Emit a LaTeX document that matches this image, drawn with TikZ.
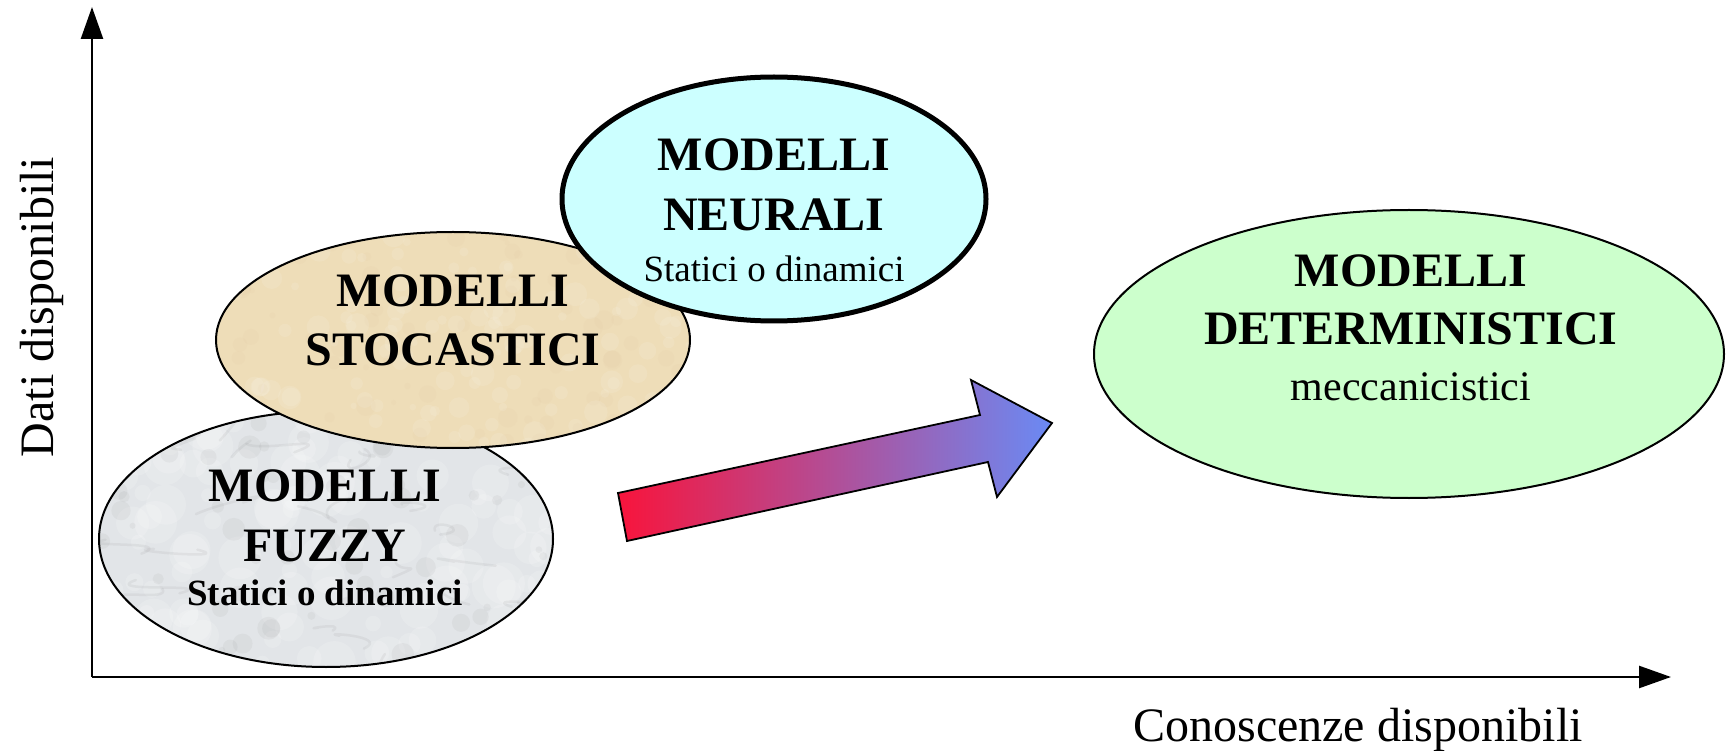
\documentclass[tikz,border=0pt]{standalone}
\usepackage{fontspec}
\setmainfont{Liberation Serif}
\usetikzlibrary{arrows.meta,shapes.geometric}

\definecolor{neurfill}{RGB}{204,255,255}
\definecolor{detfill}{RGB}{204,255,204}
\definecolor{stofill}{RGB}{238,221,184}
\definecolor{fuzfill}{RGB}{226,229,232}
\definecolor{arrred}{RGB}{248,20,60}
\definecolor{arrmid}{RGB}{200,96,176}
\definecolor{arrblue}{RGB}{106,138,244}

\begin{document}
\begin{tikzpicture}[x=1pt,y=-1pt,
  axis/.style={line width=2.5pt,-{Triangle[length=32pt,width=22pt]}},
  blob/.style={ellipse,inner sep=0pt},
  title/.style={font=\fontsize{48}{58}\selectfont\bfseries,inner sep=0pt},
  subreg/.style={font=\fontsize{37}{44}\selectfont,inner sep=0pt},
  subbold/.style={font=\fontsize{37}{44}\selectfont\bfseries,inner sep=0pt},
  axlabel/.style={font=\fontsize{48}{58}\selectfont,inner sep=0pt}]

\useasboundingbox (0,0) rectangle (1733,751);

% axes
\coordinate (O) at (92,677);
\coordinate (ytip) at (92,7);
\coordinate (xtip) at (1671,677);
\draw[axis] (O) -- (ytip);
\draw[axis] (O) -- (xtip);
\node[axlabel,rotate=90] (ylab) at (42,307) {Dati disponibili};
\node[axlabel,anchor=base] (xlab) at (1358,741) {Conoscenze disponibili};

\pgfmathsetseed{42}

% fuzzy models: marble-like grey
\node[blob,fill=fuzfill,minimum width=454pt,minimum height=256pt] (fuzzy) at (326,539) {};
\begin{scope}
  \clip (fuzzy.center) ellipse [x radius=227pt,y radius=128pt];
  \foreach \i in {1,...,120}{
    \pgfmathsetmacro{\px}{99+454*rnd}
    \pgfmathsetmacro{\py}{411+256*rnd}
    \pgfmathsetmacro{\pr}{6+16*rnd}
    \fill[white,opacity=0.16] (\px,\py) circle [radius=\pr pt];
  }
  \foreach \i in {1,...,70}{
    \pgfmathsetmacro{\px}{99+454*rnd}
    \pgfmathsetmacro{\py}{411+256*rnd}
    \pgfmathsetmacro{\pr}{3+9*rnd}
    \fill[gray,opacity=0.08] (\px,\py) circle [radius=\pr pt];
  }
  \foreach \i in {1,...,30}{
    \pgfmathsetmacro{\px}{99+454*rnd}
    \pgfmathsetmacro{\py}{411+256*rnd}
    \pgfmathsetmacro{\dxa}{50*rand}
    \pgfmathsetmacro{\dya}{20*rand}
    \pgfmathsetmacro{\dxb}{50*rand}
    \pgfmathsetmacro{\dyb}{20*rand}
    \draw[gray,opacity=0.10,line width=2.5pt,line cap=round,line join=round]
      (\px,\py) .. controls +(\dxa,\dya) and +(\dxb,\dyb) .. ++(\dxb,\dya);
  }
\end{scope}
\draw[line width=2pt] (fuzzy.center) ellipse [x radius=227pt,y radius=128pt];

% stochastic models: beige paper
\node[blob,fill=stofill,minimum width=474pt,minimum height=216pt] (stoc) at (453,340) {};
\begin{scope}
  \clip (stoc.center) ellipse [x radius=237pt,y radius=108pt];
  \foreach \i in {1,...,140}{
    \pgfmathsetmacro{\px}{216+474*rnd}
    \pgfmathsetmacro{\py}{232+216*rnd}
    \pgfmathsetmacro{\pr}{3+9*rnd}
    \fill[white,opacity=0.10] (\px,\py) circle [radius=\pr pt];
  }
  \foreach \i in {1,...,90}{
    \pgfmathsetmacro{\px}{216+474*rnd}
    \pgfmathsetmacro{\py}{232+216*rnd}
    \pgfmathsetmacro{\pr}{2+8*rnd}
    \fill[brown!60,opacity=0.06] (\px,\py) circle [radius=\pr pt];
  }
\end{scope}
\draw[line width=2pt] (stoc.center) ellipse [x radius=237pt,y radius=108pt];

% neural models
\node[blob,draw,line width=5pt,fill=neurfill,minimum width=424pt,minimum height=244pt] (neur) at (774,199) {};

% deterministic models
\node[blob,draw,line width=2pt,fill=detfill,minimum width=630pt,minimum height=288pt] (det) at (1409,354) {};

% labels inside the ellipses
\node[title] (fz1) at (325,486) {MODELLI};
\node[title] (fz2) at (325,546) {FUZZY};
\node[subbold] (fz3) at (325,593) {Statici o dinamici};

\node[title] (st1) at (453,291) {MODELLI};
\node[title] (st2) at (453,350) {STOCASTICI};

\node[title] (ne1) at (774,155) {MODELLI};
\node[title] (ne2) at (774,215) {NEURALI};
\node[subreg] (ne3) at (774,269) {Statici o dinamici};

\node[title] (de1) at (1411,271) {MODELLI};
\node[title] (de2) at (1411,329) {DETERMINISTICI};
\node[font=\fontsize{42}{50}\selectfont,inner sep=0pt] (de3) at (1411,387) {meccanicistici};

% block arrow with red-to-blue gradient
\coordinate (t1) at (618,493);
\coordinate (t2) at (627,541);
\coordinate (s1) at (980,415);
\coordinate (h1) at (971,380);
\coordinate (tip) at (1052,423);
\coordinate (h2) at (997,497);
\coordinate (s2) at (988,462);
\draw[line width=1.8pt,line join=miter,left color=arrred,middle color=arrmid,right color=arrblue]
  (t1) -- (s1) -- (h1) -- (tip) -- (h2) -- (s2) -- (t2) -- cycle;

\end{tikzpicture}
\end{document}
